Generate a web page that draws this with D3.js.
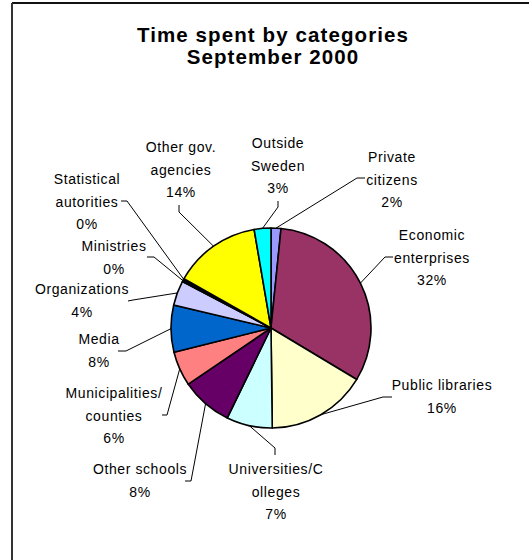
<!DOCTYPE html>
<html><head><meta charset="utf-8">
<script src="https://cdn.jsdelivr.net/npm/d3@7"></script>
<style>
html,body{margin:0;padding:0;background:#fff;}
svg{display:block;}
</style>
</head><body>
<svg id="chart" width="529" height="560"></svg>
<script>
// ---- data ----
const titleLines = ["Time spent by categories", "September 2000"];
const categories = ["Private citizens","Economic enterprises","Public libraries","Universities/Colleges","Other schools","Municipalities/counties","Media","Organizations","Ministries","Statistical autorities","Other gov. agencies","Outside Sweden"];
const values = [1.6, 32.0, 16.2, 7.4, 8.3, 5.6, 7.6, 4.0, 0.3, 0.2, 14.1, 2.7];
const labelText = [["Private","citizens"],["Economic","enterprises"],["Public libraries"],["Universities/C","olleges"],["Other schools"],["Municipalities/","counties"],["Media"],["Organizations"],["Ministries"],["Statistical","autorities"],["Other gov.","agencies"],["Outside","Sweden"]];
const colors = ["#9999FF","#993366","#FFFFCC","#CCFFFF","#660066","#FF8080","#0066CC","#CCCCFF","#000080","#FF00FF","#FFFF00","#00FFFF"];

// ---- layout (label placement: text center x, first baseline y, line end at text, elbow) ----
const labelLayout = [
  {x:392, y:162, ex:365, ey:178, bx:357, by:178},
  {x:432, y:240, ex:393, ey:257, bx:385, by:257},
  {x:442, y:390, ex:392, ey:397, bx:383, by:397},
  {x:276, y:474, ex:275, ey:455, bx:275, by:448},
  {x:140, y:474, ex:185, ey:481, bx:191, by:481},
  {x:114, y:398, ex:162, ey:415, bx:167, by:415},
  {x:99,  y:344, ex:118, ey:351, bx:126, by:351},
  {x:82,  y:294, ex:128, ey:301, bx:133, by:300},
  {x:114, y:251, ex:147, ey:257, bx:154, by:257},
  {x:87,  y:184, ex:121, ey:201, bx:127, by:201},
  {x:181, y:152, ex:179, ey:205, bx:179, by:212},
  {x:278, y:148, ex:278, ey:201, bx:278, by:207}
];

const svg = d3.select("#chart");
const W = 529, H = 560;
const cx = 271, cy = 328, R = 100;
const lineH = 22.5;

// frame
svg.append("line").attr("x1",12).attr("y1",3).attr("x2",W).attr("y2",3).attr("stroke","#111").attr("stroke-width",2);
svg.append("line").attr("x1",12).attr("y1",3).attr("x2",12).attr("y2",H).attr("stroke","#333").attr("stroke-width",2);

// title
const title = svg.append("text").attr("text-anchor","middle")
  .attr("font-family","'Liberation Sans', Arial, sans-serif")
  .attr("font-weight","bold").attr("font-size",20.5).attr("letter-spacing","1.1px").attr("fill","#000");
titleLines.forEach((t,i)=>{
  title.append("tspan").attr("x",273).attr("y",42 + i*22).text(t);
});

const total = d3.sum(values);
const data = categories.map((c,i)=>({cat:c, value:values[i], color:colors[i], lines:labelText[i], lay:labelLayout[i]}));

const pie = d3.pie().sort(null).value(d=>d.value).startAngle(0).endAngle(2*Math.PI);
const arcs = pie(data);
const arc = d3.arc().innerRadius(0).outerRadius(R);

const g = svg.append("g").attr("transform",`translate(${cx},${cy})`);
g.selectAll("path.slice").data(arcs).join("path")
  .attr("class","slice")
  .attr("d",arc)
  .attr("fill",d=>d.data.color)
  .attr("stroke","#000").attr("stroke-width",1.6).attr("stroke-linejoin","round");

// leader lines
const fmt = v => Math.round(v/total*100) + "%";
svg.append("g").selectAll("polyline").data(arcs).join("polyline")
  .attr("fill","none").attr("stroke","#000").attr("stroke-width",1)
  .attr("points",d=>{
    const a = (d.startAngle + d.endAngle)/2;
    const px = cx + R*Math.sin(a), py = cy - R*Math.cos(a);
    const L = d.data.lay;
    return `${L.ex},${L.ey} ${L.bx},${L.by} ${px},${py}`;
  });

// labels
const lab = svg.append("g")
  .attr("font-family","'Liberation Sans', Arial, sans-serif")
  .attr("font-size",14).attr("letter-spacing","0.6px").attr("fill","#000")
  .attr("text-anchor","middle");
arcs.forEach(d=>{
  const L = d.data.lay;
  const t = lab.append("text");
  const lines = d.data.lines.concat([fmt(d.data.value)]);
  lines.forEach((s,i)=>{
    t.append("tspan").attr("x",L.x).attr("y",L.y + i*lineH).text(s);
  });
});
</script>
</body></html>
